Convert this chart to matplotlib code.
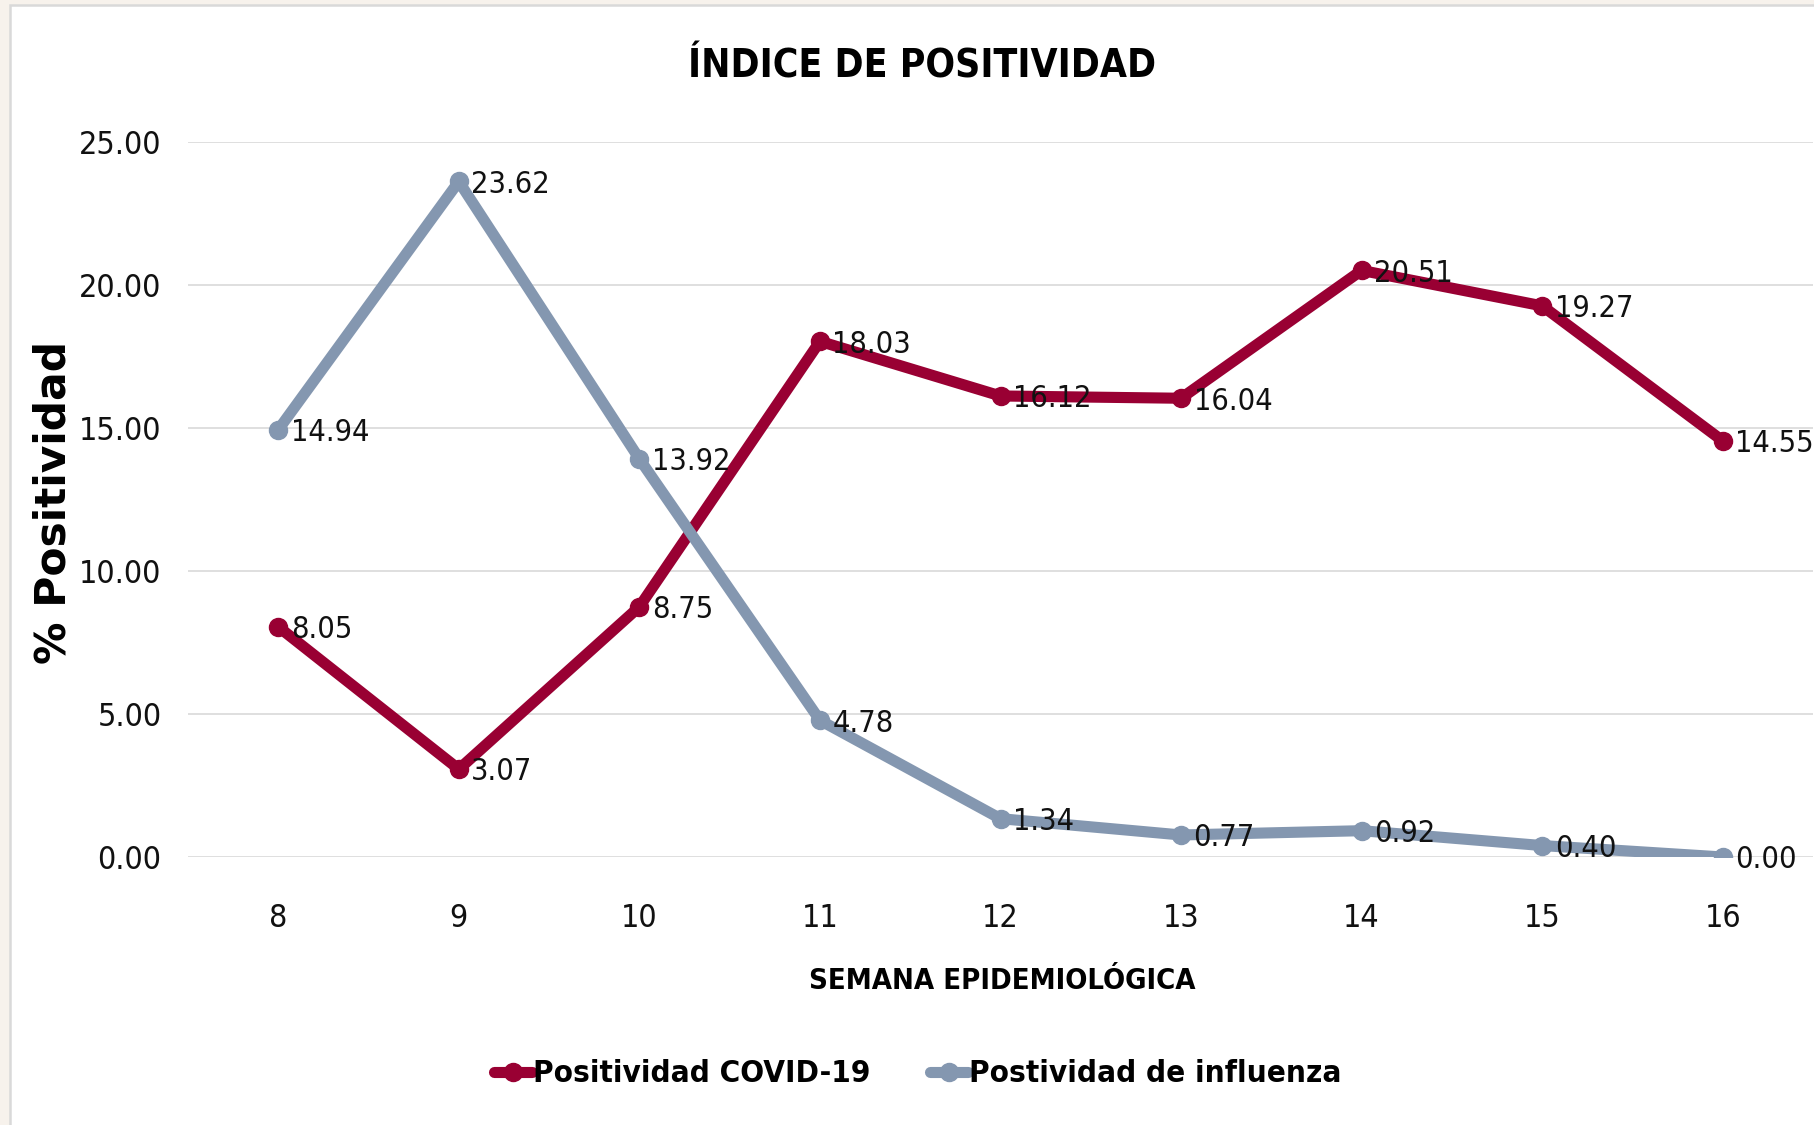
import matplotlib
matplotlib.use("Agg")
import matplotlib.pyplot as plt
from matplotlib import font_manager as fm
from matplotlib.patches import Rectangle

# ---- data ----
weeks = [8, 9, 10, 11, 12, 13, 14, 15, 16]
covid = [8.05, 3.07, 8.75, 18.03, 16.12, 16.04, 20.51, 19.27, 14.55]
influenza = [14.94, 23.62, 13.92, 4.78, 1.34, 0.77, 0.92, 0.40, 0.00]
series_names = ["Positividad COVID-19", "Postividad de influenza"]
title = "ÍNDICE DE POSITIVIDAD"
xlabel = "SEMANA EPIDEMIOLÓGICA"
ylabel = "% Positividad"
yticks = [0, 5, 10, 15, 20, 25]

# ---- fonts ----
names = {f.name for f in fm.fontManager.ttflist}
stretches = {(f.name, f.stretch) for f in fm.fontManager.ttflist}
if "Liberation Sans Narrow" in names:
    NARROW = dict(family="Liberation Sans Narrow")
elif ("DejaVu Sans", "condensed") in stretches:
    NARROW = dict(family="DejaVu Sans", stretch="condensed")
else:
    NARROW = dict(family="DejaVu Sans")
WIDE_BOLD = dict(family="DejaVu Sans", weight="bold")

C_COVID = "#990033"
C_FLU = "#8497B0"

W, H = 1814, 1125
fig = plt.figure(figsize=(W / 100, H / 100), dpi=100)
fig.patch.set_facecolor("#f7f2ec")
bg = Rectangle((10 / W, -0.01), 1.02, 1 - 5 / H + 0.01,
               transform=fig.transFigure, facecolor="white",
               edgecolor="#d9d9d9", linewidth=1.8, zorder=-10)
fig.patches.append(bg)

ax = fig.add_axes([188 / W, 1 - 857 / H, (1813 - 188) / W, (857 - 142) / H])
ax.set_facecolor("none")
ax.set_zorder(1)

ax.plot(weeks, covid, color=C_COVID, lw=8, marker="o", ms=13,
        solid_capstyle="round", label=series_names[0], zorder=3)
ax.plot(weeks, influenza, color=C_FLU, lw=8, marker="o", ms=13,
        solid_capstyle="round", label=series_names[1], zorder=3)

for xs, ys in ((weeks, covid), (weeks, influenza)):
    for x, y in zip(xs, ys):
        ax.annotate(f"{y:.2f}", (x, y), xytext=(9, -2), textcoords="offset points",
                    ha="left", va="center", fontsize=22, color="#111111",
                    zorder=4, annotation_clip=False, **NARROW)

ax.set_xlim(7.5, 16.5)
ax.set_ylim(0, 25)
ax.set_xticks(weeks)
ax.set_xticklabels([str(w) for w in weeks])
ax.set_yticks(yticks)
ax.set_yticklabels([f"{v:.2f}" for v in yticks])
for lab in ax.get_xticklabels() + ax.get_yticklabels():
    lab.set_fontsize(23)
    lab.set_fontfamily(NARROW["family"])
    if "stretch" in NARROW:
        lab.set_fontstretch(NARROW["stretch"])
    lab.set_color("#111111")
ax.tick_params(axis="both", length=0)
ax.tick_params(axis="y", pad=19)
ax.tick_params(axis="x", pad=33)
ax.grid(axis="y", color="#d9d9d9", lw=1.2)
ax.set_axisbelow(True)
for s in ax.spines.values():
    s.set_visible(False)

fig.text(922 / W, 1 - 66 / H, title, ha="center", va="center", fontsize=28,
         weight="bold", color="black", **NARROW)
fig.text(1002 / W, 1 - 981 / H, xlabel, ha="center", va="center", fontsize=21,
         weight="bold", color="black", **NARROW)
fig.text(54 / W, 1 - 502 / H, ylabel, ha="center", va="center", rotation=90,
         fontsize=30.5, color="black", **WIDE_BOLD)

leg_props = fm.FontProperties(size=22.5, weight="bold", **NARROW)
fig.legend(loc="center", bbox_to_anchor=(918 / W, 1 - 1074 / H), ncol=2,
           frameon=False, prop=leg_props, handlelength=1.2, handletextpad=0.05,
           columnspacing=1.9, borderpad=0)

fig.savefig("out.png", dpi=100, facecolor=fig.get_facecolor())
